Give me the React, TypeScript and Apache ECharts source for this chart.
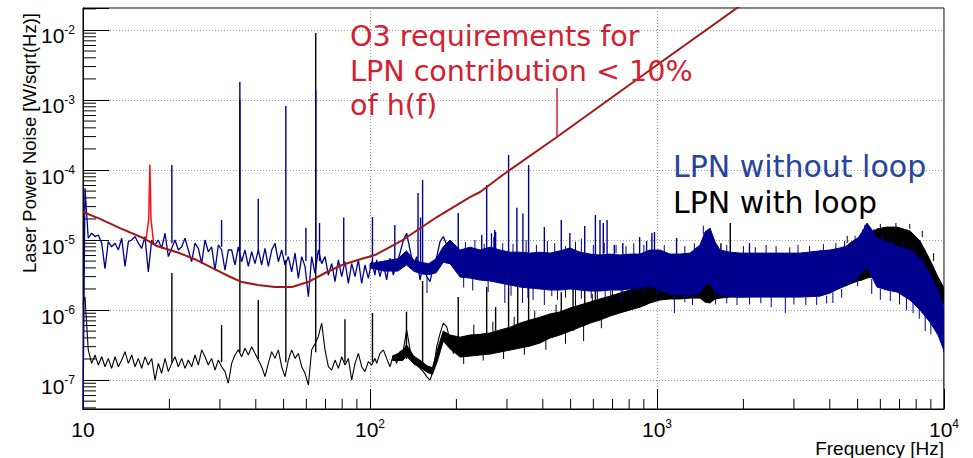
import React, { useEffect, useRef } from "react";
import * as echarts from "echarts";

// ---------- axis ranges ----------
const X_MIN = 10;
const X_MAX = 10000;
const Y_MIN = 3.86e-8;
const Y_MAX = 2.06e-2;
const minorMult = [2, 3, 4, 5, 6, 7, 8, 9];
const xDecades = [10, 100, 1000];
const yDecades = [1e-8, 1e-7, 1e-6, 1e-5, 1e-4, 1e-3, 1e-2];

// ---------- O3 requirement curve ----------
const reqF = [10, 11.46, 13.46, 16.2, 18.1, 21.8, 24.9, 28.4, 32.5, 35.8, 40.7, 46.7, 53.5, 60.8, 69.7, 79.8, 90.7, 104, 130, 171, 223, 242, 290, 448, 1023, 2030];
const reqV = [2.51e-5, 2.0e-5, 1.48e-5, 1.07e-5, 8.2e-6, 6.46e-6, 5.18e-6, 3.94e-6, 2.99e-6, 2.51e-6, 2.28e-6, 2.13e-6, 2.13e-6, 2.51e-6, 3.38e-6, 4.4e-6, 5.18e-6, 6.1e-6, 1.0e-5, 2.13e-5, 4.11e-5, 4.85e-5, 8.5e-5, 2.96e-4, 3.38e-3, 2.5e-2];
const redSpikeF = [16.6, 16.95, 17.1, 17.25, 17.6];
const redSpikeV = [1.05e-5, 2.0e-5, 1.2e-4, 2.0e-5, 9.5e-6];

// ---------- low-frequency traces (10 Hz - 200 Hz) ----------
const lowF = [10.0,
  10.16, 10.43, 10.72, 11.01, 11.31, 11.62, 11.93, 12.25, 12.58, 12.93, 13.28, 13.64, 14.01, 14.39, 14.78, 15.18, 15.59, 16.01, 16.44, 16.89, 17.35, 17.82, 18.30, 18.79, 19.31, 19.83, 20.37, 20.92, 21.49, 22.07, 22.67, 23.28, 23.91, 24.56, 25.23, 25.91, 26.61, 27.33, 28.07, 28.84, 29.62, 30.42, 31.24, 32.09,
  32.96, 33.85, 34.77, 35.71, 36.68, 37.68, 38.70, 39.75, 40.82, 41.93, 43.07, 44.24, 45.44, 46.67, 47.94, 49.23, 50.57, 51.94, 53.35, 54.80, 56.28, 57.81, 59.38, 60.99, 62.64, 64.34, 66.07, 67.87, 69.71, 71.60, 73.54, 75.53, 77.59, 79.69, 81.85, 84.07, 86.35, 88.69, 91.10, 93.54, 96.07, 98.67, 101.3, 104.1,
  105.5, 108.3, 111.3, 114.3, 117.4, 120.6, 123.9, 127.2, 130.7, 134.2, 137.9, 141.6, 145.4, 149.4, 153.4, 157.6, 161.9, 166.3, 170.8, 175.4, 180.1, 185.0, 190.0, 195.2, 200.5];
const blueLow = [3e-8,
  5.5e-5, 1.06e-5, 1.25e-5, 1.12e-5, 1.18e-5, 9.0e-6, 3.9e-6, 9.5e-6, 8.0e-6, 9.0e-6,
  7.2e-6, 1.06e-5, 4.2e-6, 9.5e-6, 1.0e-5, 1.12e-5, 9.0e-6, 7.6e-6, 1.12e-5, 3.5e-6,
  1.0e-5, 8.5e-6, 1.0e-5, 7.6e-6, 1.25e-5, 5.8e-6, 7.6e-6, 1.0e-5, 7.2e-6, 8.0e-6,
  1.06e-5, 7.2e-6, 4.9e-6, 9.0e-6, 7.6e-6, 4.6e-6, 1.0e-5, 6.8e-6, 8.0e-6, 3.7e-6,
  8.5e-6, 7.2e-6, 3.7e-6, 7.2e-6,
  7.2e-6, 4.4e-6, 8.0e-6, 4.9e-6, 7.2e-6, 4.2e-6, 6.8e-6, 4.6e-6, 7.2e-6, 4.4e-6,
  7.6e-6, 4.2e-6, 7.2e-6, 9.0e-6, 4.9e-6, 7.2e-6, 4.4e-6, 5.8e-6, 3.5e-6, 6.5e-6,
  2.84e-6, 5.8e-6, 4.2e-6, 1.55e-6, 5.8e-6, 3.34e-6, 7.2e-6, 4.6e-6, 5.8e-6, 3.16e-6,
  4.6e-6, 2.54e-6, 5.2e-6, 3.0e-6, 4.9e-6, 2.4e-6, 4.6e-6, 3.0e-6, 5.2e-6, 2.4e-6,
  4.4e-6, 2.84e-6, 4.9e-6, 3.16e-6,
  5.2e-6, 3.0e-6, 4.6e-6, 2.69e-6, 5.5e-6, 3.16e-6, 4.6e-6, 6.5e-6, 1.0e-5, 1.25e-5,
  7.2e-6, 4.2e-6, 5.8e-6, 2.69e-6, 4.6e-6, 3.0e-6, 2.54e-6, 4.2e-6, 5.8e-6, 9.5e-6,
  1.12e-5, 8.5e-6, 7.2e-6, 4.4e-6, 5.2e-6];
const blackLow = [1.2e-6,
  1.55e-6, 2.7e-7, 1.73e-7, 2.28e-7, 1.64e-7, 2.15e-7, 1.55e-7, 2.04e-7, 1.47e-7, 2.15e-7,
  1.55e-7, 1.93e-7, 2.54e-7, 1.73e-7, 2.28e-7, 1.55e-7, 2.04e-7, 1.47e-7, 2.15e-7, 1.64e-7,
  2.04e-7, 1.0e-7, 1.73e-7, 1.25e-7, 2.04e-7, 1.32e-7, 1.73e-7, 2.15e-7, 1.55e-7, 2.04e-7,
  1.47e-7, 1.93e-7, 1.55e-7, 2.28e-7, 1.64e-7, 2.7e-7, 2.15e-7, 1.64e-7, 2.04e-7, 1.39e-7,
  1.93e-7, 1.55e-7, 1.32e-7, 9.0e-8,
  1.73e-7, 2.28e-7, 2.7e-7, 2.15e-7, 2.84e-7, 2.28e-7, 3.0e-7, 2.4e-7, 1.93e-7, 1.55e-7,
  1.12e-7, 1.73e-7, 2.54e-7, 2.04e-7, 2.7e-7, 1.55e-7, 1.12e-7, 1.93e-7, 2.7e-7, 2.04e-7,
  2.4e-7, 1.55e-7, 1.25e-7, 8.5e-8, 2.7e-7, 3.3e-7, 4.2e-7, 6.5e-7, 2.7e-7, 1.55e-7,
  1.39e-7, 1.93e-7, 1.47e-7, 2.15e-7, 1.64e-7, 2.04e-7, 1.0e-7, 1.73e-7, 2.4e-7, 1.55e-7,
  1.32e-7, 1.83e-7, 1.64e-7, 2.04e-7,
  1.73e-7, 2.4e-7, 2.7e-7, 2.04e-7, 1.55e-7, 2.28e-7, 1.73e-7, 2.54e-7, 2.7e-7, 5.2e-7,
  2.7e-7, 1.93e-7, 1.64e-7, 1.47e-7, 1.32e-7, 1.12e-7, 1.0e-7, 1.39e-7, 3.0e-7, 4.6e-7,
  6.5e-7, 5.8e-7, 3.73e-7, 2.4e-7, 2.84e-7];

// ---------- dense parts of the spectra: upper / lower envelopes ----------
const blueBandF = [100, 112, 125, 134, 142, 150, 160, 170, 180, 190, 206, 223, 242, 262, 284, 308, 333, 361, 391, 424, 459, 498, 539, 584, 633, 686, 743, 805, 873, 945, 1024, 1110, 1203, 1303, 1412, 1470, 1530, 1593, 1658, 1797, 1947, 2285, 2683, 3150, 3698, 4007, 4342, 4704, 5016, 5180, 5392, 5612, 5843, 6330, 6858, 7613, 8250, 8939, 9530, 9920, 10000];
const blueHi = [4.6e-6, 5.0e-6, 5.4e-6, 7.0e-6, 5.2e-6, 4.8e-6, 4.6e-6, 5.4e-6, 8.0e-6, 1.0e-5, 7.2e-6, 7.9e-6, 7.2e-6, 7.9e-6, 7.2e-6, 6.7e-6, 6.7e-6, 6.5e-6, 6.7e-6, 6.5e-6, 7.0e-6, 7.7e-6, 6.7e-6, 6.3e-6, 6.1e-6, 6.3e-6, 6.1e-6, 6.3e-6, 6.3e-6, 7.2e-6, 7.2e-6, 6.3e-6, 6.3e-6, 6.5e-6, 8.5e-6, 1.30e-5, 1.48e-5, 9.4e-6, 7.2e-6, 6.7e-6, 6.5e-6, 6.5e-6, 6.5e-6, 6.5e-6, 7.0e-6, 7.2e-6, 7.7e-6, 8.5e-6, 1.07e-5, 1.30e-5, 1.75e-5, 1.39e-5, 1.07e-5, 9.4e-6, 8.2e-6, 7.2e-6, 5.4e-6, 3.27e-6, 1.93e-6, 1.18e-6, 1.0e-6];
const blueLo = [4.0e-6, 3.6e-6, 3.6e-6, 4.4e-6, 3.6e-6, 3.3e-6, 3.2e-6, 3.4e-6, 4.8e-6, 4.6e-6, 2.96e-6, 2.86e-6, 2.68e-6, 2.6e-6, 2.43e-6, 2.28e-6, 2.13e-6, 2.06e-6, 2.0e-6, 1.93e-6, 1.93e-6, 2.0e-6, 1.93e-6, 1.87e-6, 1.87e-6, 1.93e-6, 1.93e-6, 2.0e-6, 2.06e-6, 2.2e-6, 1.93e-6, 1.69e-6, 1.64e-6, 1.64e-6, 1.75e-6, 2.28e-6, 2.43e-6, 1.81e-6, 1.64e-6, 1.58e-6, 1.53e-6, 1.53e-6, 1.53e-6, 1.53e-6, 1.58e-6, 1.75e-6, 2.06e-6, 2.43e-6, 2.96e-6, 3.49e-6, 4.1e-6, 2.96e-6, 2.13e-6, 1.93e-6, 1.81e-6, 1.39e-6, 1.0e-6, 6.7e-7, 4.4e-7, 2.86e-7, 2.51e-7];
const blackBandF = [120, 130, 134, 142, 150, 158, 165, 172, 180, 190, 206, 223, 242, 262, 284, 308, 333, 361, 391, 424, 459, 498, 539, 584, 633, 686, 743, 805, 873, 945, 1024, 1110, 1203, 1303, 1412, 1470, 1530, 1593, 1658, 1797, 1947, 2285, 2683, 3150, 3698, 4007, 4342, 4704, 5016, 5180, 5392, 5612, 5843, 6330, 6858, 7613, 8250, 8939, 9530, 9920, 10000];
const blackHi = [2.2e-7, 2.6e-7, 3.2e-7, 2.2e-7, 1.9e-7, 1.6e-7, 1.5e-7, 2.8e-7, 5.0e-7, 4.4e-7, 4.1e-7, 4.4e-7, 4.5e-7, 4.7e-7, 5.2e-7, 5.7e-7, 6.5e-7, 7.2e-7, 7.9e-7, 8.8e-7, 9.4e-7, 1.07e-6, 1.18e-6, 1.30e-6, 1.44e-6, 1.58e-6, 1.75e-6, 1.93e-6, 2.13e-6, 2.35e-6, 2.6e-6, 2.68e-6, 2.77e-6, 2.86e-6, 3.06e-6, 3.73e-6, 3.98e-6, 3.06e-6, 3.06e-6, 3.06e-6, 3.16e-6, 3.27e-6, 3.49e-6, 3.73e-6, 4.4e-6, 5.4e-6, 6.7e-6, 9.1e-6, 1.07e-5, 1.14e-5, 1.22e-5, 1.30e-5, 1.44e-5, 1.53e-5, 1.53e-5, 1.35e-5, 9.7e-6, 5.2e-6, 2.96e-6, 2.2e-6, 2.06e-6];
const blackLo = [1.9e-7, 1.9e-7, 2.2e-7, 1.7e-7, 1.5e-7, 1.3e-7, 1.2e-7, 1.9e-7, 3.6e-7, 2.8e-7, 2.13e-7, 2.2e-7, 2.28e-7, 2.35e-7, 2.51e-7, 2.68e-7, 2.86e-7, 3.06e-7, 3.38e-7, 3.98e-7, 4.4e-7, 5.0e-7, 5.7e-7, 6.5e-7, 7.2e-7, 8.2e-7, 9.1e-7, 1.0e-6, 1.10e-6, 1.26e-6, 1.39e-6, 1.44e-6, 1.44e-6, 1.48e-6, 1.48e-6, 1.30e-6, 1.26e-6, 1.44e-6, 1.48e-6, 1.53e-6, 1.53e-6, 1.58e-6, 1.64e-6, 1.75e-6, 1.81e-6, 1.93e-6, 2.06e-6, 2.35e-6, 2.6e-6, 2.68e-6, 2.86e-6, 2.96e-6, 3.16e-6, 3.27e-6, 3.16e-6, 2.86e-6, 2.28e-6, 1.69e-6, 1.44e-6, 1.26e-6, 1.18e-6];

// ---------- spectral lines ----------
const blueSpikeF = [20.4, 30.4, 35.2, 40.8, 50.9, 59.8, 64.7, 66.7, 81, 102, 122, 147, 150, 152.5, 203, 245, 255, 265, 272, 274, 304, 325, 341, 357, 405, 464, 497, 560, 610, 633, 650, 670, 710, 760, 870, 920, 960, 980, 1170, 2100];
const blueSpikeBase = [9e-6, 8e-6, 7e-6, 7e-6, 6e-6, 5e-6, 5e-6, 5e-6, 4.5e-6, 4.5e-6, 4.5e-6, 4.5e-6, 4.5e-6, 4.5e-6, 5e-6, 5e-6, 5e-6, 5e-6, 5e-6, 5e-6, 5e-6, 5e-6, 5e-6, 5e-6, 5e-6, 5e-6, 5e-6, 5e-6, 5e-6, 5e-6, 5e-6, 5e-6, 5e-6, 5e-6, 5e-6, 5e-6, 5e-6, 5e-6, 5e-6, 5e-6];
const blueSpikeTop = [1.18e-4, 1.93e-5, 1.81e-3, 3.9e-5, 8.2e-4, 1.5e-5, 1.39e-3, 1.75e-5, 2.1e-5, 2.13e-5, 1.64e-5, 4.7e-5, 2.1e-5, 7.2e-5, 2.43e-5, 1.18e-5, 6.1e-5, 1.25e-5, 1.39e-5, 1.3e-5, 1.64e-4, 2.9e-5, 2.4e-5, 1.18e-4, 1.53e-5, 1.93e-5, 1.26e-5, 1.58e-5, 2.28e-5, 1.93e-5, 1.75e-5, 1.93e-5, 8.5e-6, 9.1e-6, 1.1e-5, 9.7e-6, 1.26e-5, 1.3e-5, 1.07e-5, 9.1e-6];
const blueFuzzUpF = [215, 232, 250, 270, 290, 315, 350, 380, 415, 440, 480, 520, 545, 600, 655, 720, 780, 830, 900, 1060, 1250, 1350, 1450, 1620, 1750, 2000, 2200, 2400, 2600, 2900, 3100, 3400, 3800, 4200, 4500, 4900, 5300, 5700, 6100, 6600, 7200, 7900, 8500];
const blueFuzzUpFrom = [6.5e-6, 6.5e-6, 6.5e-6, 6.5e-6, 6.5e-6, 6.2e-6, 6.2e-6, 6.2e-6, 6.2e-6, 6.2e-6, 6.2e-6, 6.2e-6, 6.0e-6, 5.8e-6, 6.5e-6, 6.5e-6, 6.0e-6, 6.0e-6, 6.0e-6, 6.5e-6, 6.0e-6, 6.0e-6, 1.2e-5, 6.5e-6, 6.2e-6, 6.2e-6, 6.2e-6, 6.2e-6, 6.2e-6, 6.2e-6, 6.2e-6, 6.2e-6, 6.5e-6, 7.0e-6, 7.5e-6, 9.0e-6, 1.4e-5, 1.2e-5, 1.0e-5, 8.5e-6, 7.5e-6, 6.0e-6, 4.5e-6];
const blueFuzzUpTo = [9.4e-6, 1.0e-5, 8.8e-6, 1.1e-5, 9.0e-6, 8.8e-6, 1.0e-5, 8.5e-6, 9.7e-6, 9.0e-6, 8.2e-6, 9.4e-6, 1.05e-5, 8.5e-6, 9.1e-6, 8.5e-6, 8.2e-6, 9.0e-6, 8.5e-6, 8.5e-6, 8.2e-6, 9.0e-6, 1.6e-5, 8.2e-6, 8.5e-6, 8.2e-6, 7.9e-6, 8.5e-6, 8.2e-6, 7.9e-6, 8.5e-6, 8.2e-6, 8.8e-6, 9.1e-6, 9.7e-6, 1.15e-5, 1.65e-5, 1.45e-5, 1.2e-5, 1.05e-5, 9.4e-6, 7.9e-6, 6.2e-6];
const blueDownF = [158, 212, 228, 258, 295, 310, 340, 355, 370, 405, 430, 450, 480, 520, 545, 590, 620, 660, 690, 750, 800, 900, 1000, 1150, 1250, 1330, 1600, 1750, 1900, 2100, 2300, 2500, 2800, 3000, 3300, 3600, 3900, 4100, 4400, 5000, 5600, 6000, 6500, 7000, 7400, 7800, 8200, 8600, 9000, 10000];
const blueDownFrom = [3e-6, 3e-6, 3e-6, 2.7e-6, 2.4e-6, 2.3e-6, 2.2e-6, 2.1e-6, 2.1e-6, 2.0e-6, 1.95e-6, 1.95e-6, 1.95e-6, 1.95e-6, 1.95e-6, 1.9e-6, 1.9e-6, 1.9e-6, 1.9e-6, 1.95e-6, 1.95e-6, 2.0e-6, 2.1e-6, 1.7e-6, 1.65e-6, 1.64e-6, 1.7e-6, 1.6e-6, 1.55e-6, 1.55e-6, 1.53e-6, 1.53e-6, 1.53e-6, 1.53e-6, 1.53e-6, 1.55e-6, 1.6e-6, 1.8e-6, 2.0e-6, 3.0e-6, 2.8e-6, 2.0e-6, 1.9e-6, 1.8e-6, 1.5e-6, 1.4e-6, 1.1e-6, 9e-7, 7e-7, 1.0e-6];
const blueDownTo = [1.75e-6, 2.1e-6, 1.9e-6, 1.8e-6, 1.26e-6, 1.6e-6, 1.26e-6, 1.5e-6, 1.39e-6, 1.18e-6, 1.58e-6, 1.4e-6, 1.5e-6, 1.39e-6, 1.45e-6, 1.48e-6, 1.4e-6, 1.45e-6, 1.53e-6, 1.3e-6, 1.58e-6, 1.5e-6, 1.6e-6, 9.1e-7, 1.3e-6, 1.18e-6, 1.2e-6, 1.25e-6, 1.18e-6, 1.2e-6, 1.25e-6, 1.10e-6, 9.1e-7, 1.2e-6, 1.18e-6, 1.18e-6, 1.25e-6, 1.26e-6, 1.5e-6, 2.2e-6, 1.7e-6, 1.4e-6, 1.35e-6, 1.2e-6, 1.0e-6, 9e-7, 7.5e-7, 5e-7, 4.5e-7, 1e-8];
const blackSpikeF = [20.4, 30.4, 35.2, 40.8, 50.9, 64.7, 81.8, 102, 134, 152.5, 203, 255, 274, 304, 327, 357, 464, 510, 560, 610, 1670, 1800];
const blackSpikeBase = [1.8e-7, 1.8e-7, 2.5e-7, 2e-7, 1.8e-7, 2.5e-7, 1.8e-7, 1.8e-7, 2e-7, 1.5e-7, 2.7e-7, 2.5e-7, 2.5e-7, 3e-7, 3e-7, 3e-7, 5e-7, 5e-7, 6e-7, 7e-7, 3e-6, 3e-6];
const blackSpikeTop = [3.38e-6, 6.1e-7, 1.0e-3, 1.39e-6, 5.2e-6, 9.06e-3, 7.4e-7, 9.1e-7, 9.5e-7, 2.6e-6, 1.53e-6, 2.13e-6, 1.1e-6, 3e-6, 2.5e-6, 2.4e-6, 1.8e-6, 2.13e-6, 1.93e-6, 2.3e-6, 9e-6, 1.75e-5];
const blackFuzzF = [212, 230, 248, 268, 292, 318, 345, 375, 410, 445, 480, 520, 555, 595, 640, 700, 760, 820, 880, 940, 4600, 5200, 6000, 6800, 7600, 8400, 9200];
const blackFuzzFrom = [4.1e-7, 4.4e-7, 4.5e-7, 4.7e-7, 5.2e-7, 5.7e-7, 6.5e-7, 7.2e-7, 7.9e-7, 8.8e-7, 9.4e-7, 1.07e-6, 1.18e-6, 1.3e-6, 1.44e-6, 1.58e-6, 1.75e-6, 1.93e-6, 2.1e-6, 2.3e-6, 9e-6, 1.15e-5, 1.4e-5, 1.5e-5, 1.45e-5, 1.1e-5, 5e-6];
const blackFuzzTo = [1.7e-7, 6.2e-7, 1.9e-7, 6.8e-7, 2.0e-7, 8.0e-7, 2.3e-7, 9.8e-7, 2.7e-7, 1.2e-6, 3.3e-7, 1.4e-6, 3.6e-7, 1.7e-6, 5.5e-7, 2.1e-6, 2.3e-6, 2.5e-6, 2.7e-6, 2.9e-6, 1.15e-5, 1.4e-5, 1.7e-5, 1.75e-5, 1.7e-5, 1.35e-5, 6.5e-6];

// ---------- colours ----------
const BLUE = "#00008f";
const BLACK = "#000000";
const RED_CURVE = "#a51616";
const RED_SPIKE = "#ff1010";
const RED_TEXT = "#d42030";
const BLUE_TEXT = "#27449c";
const AXIS_FONT = "Liberation Sans";
const NOTE_FONT = "DejaVu Sans";

const expLabel = (v: number) => {
  const l = Math.log10(v);
  const e = Math.round(l);
  if (Math.abs(l - e) > 1e-3) return "";
  return e === 1 ? "10" : `10{sup|${e}}`;
};

const clampY = (cs: any, y: number) => Math.max(cs.y, Math.min(cs.y + cs.height, y));

const segmentSeries = (name: string, color: string, F: number[], A: number[], B: number[], width: number, z: number) => ({
  type: "custom",
  name,
  z,
  silent: true,
  clip: true,
  coordinateSystem: "cartesian2d",
  encode: { x: 0, y: [1, 2] },
  data: F.map((f, i) => [f, A[i], B[i]]),
  renderItem: (params: any, api: any) => {
    const cs = params.coordSys;
    const p1 = api.coord([api.value(0), api.value(1)]);
    const p2 = api.coord([api.value(0), api.value(2)]);
    return {
      type: "line",
      shape: { x1: p1[0], y1: clampY(cs, p1[1]), x2: p2[0], y2: clampY(cs, p2[1]) },
      style: { stroke: color, lineWidth: width },
    };
  },
});

const bandSeries = (name: string, color: string, F: number[], HI: number[], LO: number[], z: number) => ({
  type: "custom",
  name,
  z,
  silent: true,
  clip: true,
  coordinateSystem: "cartesian2d",
  encode: { x: 0, y: 1 },
  data: [[F[0], HI[0]]],
  renderItem: (params: any, api: any) => {
    const cs = params.coordSys;
    const pts: number[][] = [];
    for (let i = 0; i < F.length; i++) {
      const p = api.coord([F[i], HI[i]]);
      pts.push([p[0], clampY(cs, p[1])]);
    }
    for (let i = F.length - 1; i >= 0; i--) {
      const p = api.coord([F[i], LO[i]]);
      pts.push([p[0], clampY(cs, p[1])]);
    }
    return { type: "polygon", shape: { points: pts }, style: { fill: color, stroke: color, lineWidth: 1 } };
  },
});

const lineSeries = (name: string, color: string, F: number[], V: number[], width: number, z: number) => ({
  type: "line",
  name,
  z,
  silent: true,
  clip: true,
  showSymbol: false,
  symbol: "none",
  lineStyle: { color, width },
  data: F.map((f, i) => [f, V[i]]),
});

export default function App() {
  const ref = useRef<HTMLDivElement>(null);
  useEffect(() => {
    document.body.style.margin = "0";
    const chart = echarts.init(ref.current!, null, { renderer: "svg" });
    const ySupRich = {
      sup: { fontSize: 12, fontFamily: AXIS_FONT, color: "#000", padding: [0, 0, 12, 0] },
    };
    const xSupRich = {
      sup: { fontSize: 12, lineHeight: 8, fontFamily: AXIS_FONT, color: "#000", padding: [0, 0, 11, 0] },
    };
    const option: any = {
      animation: false,
      backgroundColor: "#ffffff",
      grid: { left: 83, right: 29, top: 8, bottom: 49, show: true, borderColor: "#000", borderWidth: 1, backgroundColor: "transparent" },
      xAxis: {
        type: "log",
        logBase: 10,
        min: X_MIN,
        max: X_MAX,
        axisLine: { show: true, lineStyle: { color: "#000", width: 1 } },
        axisTick: { show: true, inside: true, length: 20, lineStyle: { color: "#000", width: 1 } },
        minorTick: { show: false },
        splitLine: { show: true, lineStyle: { color: "#9a9a9a", width: 1, type: [1, 2] } },
        axisLabel: { formatter: expLabel, fontFamily: AXIS_FONT, fontSize: 21, lineHeight: 15, color: "#000", margin: 13, rich: xSupRich },
      },
      yAxis: {
        type: "log",
        logBase: 10,
        min: Y_MIN,
        max: Y_MAX,
        axisLine: { show: true, lineStyle: { color: "#000", width: 1 } },
        axisTick: { show: true, inside: true, length: 26, lineStyle: { color: "#000", width: 1 } },
        minorTick: { show: false },
        splitLine: { show: true, lineStyle: { color: "#9a9a9a", width: 1, type: [1, 2] } },
        axisLabel: { formatter: expLabel, fontFamily: AXIS_FONT, fontSize: 21, color: "#000", margin: 8, padding: [12, 0, 0, 0], rich: ySupRich },
      },
      series: [
        {
          type: "custom",
          name: "minor ticks",
          z: 1,
          silent: true,
          coordinateSystem: "cartesian2d",
          encode: { x: 0, y: 1 },
          data: [[100, 1e-5]],
          renderItem: (params: any, api: any) => {
            const cs = params.coordSys;
            const children: any[] = [];
            const bottom = cs.y + cs.height;
            for (const d of xDecades) {
              for (const m of minorMult) {
                const v = d * m;
                if (v <= X_MIN || v >= X_MAX) continue;
                const x = api.coord([v, 1e-5])[0];
                children.push({ type: "line", shape: { x1: x, y1: bottom, x2: x, y2: bottom - 10 }, style: { stroke: "#000", lineWidth: 1 } });
              }
            }
            for (const d of yDecades) {
              for (const m of minorMult) {
                const v = d * m;
                if (v <= Y_MIN || v >= Y_MAX) continue;
                const y = api.coord([100, v])[1];
                children.push({ type: "line", shape: { x1: cs.x, y1: y, x2: cs.x + 13, y2: y }, style: { stroke: "#000", lineWidth: 1 } });
              }
            }
            return { type: "group", children };
          },
        },
        bandSeries("black band", BLACK, blackBandF, blackHi, blackLo, 3),
        segmentSeries("black fuzz", BLACK, blackFuzzF, blackFuzzFrom, blackFuzzTo, 1, 3),
        lineSeries("LPN with loop", BLACK, lowF, blackLow, 1.1, 3),
        segmentSeries("black lines", BLACK, blackSpikeF, blackSpikeBase, blackSpikeTop, 1.4, 3),
        bandSeries("blue band", BLUE, blueBandF, blueHi, blueLo, 4),
        lineSeries("LPN without loop", BLUE, lowF, blueLow, 1.3, 4),
        segmentSeries("blue lines", BLUE, blueSpikeF, blueSpikeBase, blueSpikeTop, 1.4, 4),
        segmentSeries("blue fuzz", BLUE, blueFuzzUpF, blueFuzzUpFrom, blueFuzzUpTo, 1, 4),
        segmentSeries("blue dips", BLUE, blueDownF, blueDownFrom, blueDownTo, 1, 4),
        lineSeries("O3 requirement", RED_CURVE, reqF, reqV, 2, 5),
        lineSeries("O3 requirement line", RED_SPIKE, redSpikeF, redSpikeV, 1.5, 6),
      ],
      graphic: [
        { type: "text", z: 20, x: 29, y: 13, rotation: Math.PI / 2, style: { text: "Laser Power Noise [W/sqrt(Hz)]", fontSize: 18.5, fontFamily: AXIS_FONT, fill: "#000", align: "right", verticalAlign: "middle" } },
        { type: "text", z: 20, x: 944, y: 448, style: { text: "Frequency [Hz]", fontSize: 19, lineHeight: 13, fontFamily: AXIS_FONT, fill: "#000", align: "right", verticalAlign: "middle" } },
        { type: "text", z: 20, x: 350, y: 36, style: { text: "O3 requirements for", fontSize: 28.6, fontFamily: NOTE_FONT, fill: RED_TEXT, align: "left", verticalAlign: "middle" } },
        { type: "text", z: 20, x: 350, y: 71, style: { text: "LPN contribution < 10%", fontSize: 28.6, fontFamily: NOTE_FONT, fill: RED_TEXT, align: "left", verticalAlign: "middle" } },
        { type: "text", z: 20, x: 350, y: 105, style: { text: "of h(f)", fontSize: 28.6, fontFamily: NOTE_FONT, fill: RED_TEXT, align: "left", verticalAlign: "middle" } },
        { type: "line", z: 20, shape: { x1: 557, y1: 88, x2: 557, y2: 137 }, style: { stroke: RED_TEXT, lineWidth: 1.5 } },
        { type: "text", z: 20, x: 673, y: 166, style: { text: "LPN without loop", fontSize: 30, fontFamily: NOTE_FONT, fill: BLUE_TEXT, align: "left", verticalAlign: "middle" } },
        { type: "text", z: 20, x: 673, y: 202, style: { text: "LPN with loop", fontSize: 30, fontFamily: NOTE_FONT, fill: "#000", align: "left", verticalAlign: "middle" } },
      ],
    };
    chart.setOption(option);
    return () => chart.dispose();
  }, []);
  return <div ref={ref} style={{ width: 973, height: 458 }} />;
}
